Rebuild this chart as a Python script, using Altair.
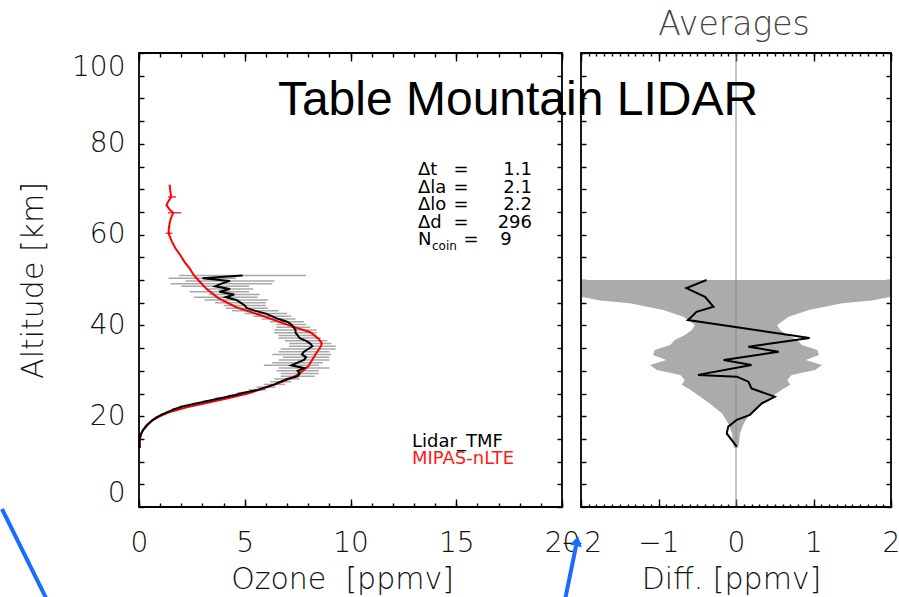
import altair as alt
import pandas as pd

# Lidar_TMF ozone profile: altitude [km], ozone [ppmv], 1-sigma [ppmv]
lidar_alt = [51.0, 50.4, 49.8, 49.2, 48.6, 48.0, 47.4, 46.8, 46.2, 45.6, 45.0, 44.4,
             43.8, 43.2, 42.6, 42.0, 41.4, 40.8, 40.2, 39.6, 39.0, 38.4, 37.8, 37.2,
             36.6, 36.0, 35.4, 34.8, 34.2, 33.6, 33.0, 32.4, 31.8, 31.2, 30.6, 30.0,
             29.4, 28.8, 28.2, 27.6, 27.0, 26.4, 25.8, 25.2, 24.6, 24.0, 23.4, 22.8,
             22.2, 21.6, 21.0, 20.4, 19.8, 19.2, 18.0, 17.0, 16.0, 15.0, 14.0, 13.0]
lidar_o3 = [4.9, 3.0, 4.3, 3.9, 3.6, 4.3, 3.8, 4.5, 4.1, 4.6, 4.8, 5.0,
            5.1, 5.5, 6.0, 6.3, 6.6, 7.0, 7.2, 7.3, 7.4, 7.4, 7.5, 7.6,
            7.9, 8.1, 8.2, 8.0, 7.8, 7.7, 7.9, 7.8, 7.5, 7.2, 7.8, 7.5,
            7.6, 7.5, 7.0, 6.7, 6.4, 6.0, 5.6, 5.0, 4.5, 3.9, 3.3, 2.7,
            2.1, 1.7, 1.4, 1.1, 0.85, 0.65, 0.38, 0.2, 0.08, 0.03, 0.02, 0.04]
lidar_err = [3.0, 1.6, 2.1, 2.4, 1.6, 1.1, 1.4, 1.2, 1.5, 1.5, 1.2, 1.0,
             1.0, 1.1, 1.0, 0.9, 0.8, 0.8, 0.7, 0.8, 1.0, 1.0, 0.9, 1.0,
             1.0, 1.0, 1.1, 1.3, 1.2, 1.4, 1.1, 1.2, 1.2, 1.3, 1.2, 1.0,
             0.9, 0.8, 0.6, 0.5, 0.5, 0.45, 0.4, 0.35, 0.3, 0.3, 0.25, 0.2,
             0.2, 0.15, 0.12, 0.1, 0.08, 0.06, 0.05, 0.04, 0.03, 0.02, 0.02, 0.02]

# MIPAS-nLTE ozone profile
mipas_alt = [71.0, 70.0, 68.3, 67.0, 66.5, 65.5, 64.8, 63.5, 62.5, 61.0, 60.0, 58.5,
             57.0, 55.5, 54.0, 52.5, 51.0, 50.0, 48.0, 46.0, 44.0, 42.0, 40.0, 38.5,
             37.0, 36.0, 35.0, 34.0, 32.5, 31.0, 30.0, 29.0, 28.0, 27.0, 26.0, 25.0,
             24.0, 23.0, 22.0, 21.0, 20.0, 19.0, 18.0, 17.0, 16.0, 15.0, 14.0, 13.2]
mipas_o3 = [1.45, 1.47, 1.52, 1.35, 1.3, 1.45, 1.62, 1.5, 1.45, 1.4, 1.42, 1.55,
            1.72, 1.95, 2.15, 2.4, 2.6, 2.8, 3.2, 3.75, 4.6, 5.9, 7.1, 8.1,
            8.5, 8.65, 8.55, 8.4, 8.2, 8.0, 7.75, 7.45, 7.0, 6.45, 5.8, 5.15,
            4.25, 3.3, 2.3, 1.5, 1.0, 0.62, 0.36, 0.2, 0.1, 0.05, 0.03, 0.03]
mipas_err_alt = [68.3, 64.8, 60.3]
mipas_err_lo = [1.37, 1.37, 1.26]
mipas_err_hi = [1.75, 2.0, 1.57]

# Mean difference and its spread
diff_alt = [50.0, 48.2, 46.3, 44.1, 43.0, 42.3, 41.2, 37.2, 35.3, 34.2, 32.4, 31.3,
            29.1, 28.7, 27.6, 26.1, 24.3, 22.8, 20.3, 19.2, 17.7, 16.2, 13.3]
diff_val = [-0.38, -0.64, -0.40, -0.29, -0.51, -0.55, -0.62, 0.95, 0.16, 0.55, -0.16, 0.20,
            -0.49, 0.01, 0.16, 0.20, 0.50, 0.33, 0.18, 0.01, -0.10, -0.12, 0.01]
band_alt = [50.0, 46.3, 45.5, 44.9, 43.4, 41.9, 40.1, 39.0, 37.9, 36.8, 35.7, 34.6,
            33.5, 32.4, 31.3, 30.2, 29.1, 28.0, 26.9, 25.8, 24.3, 22.8, 20.6, 18.4,
            16.2, 14.0, 13.0]
band_half = [2.0, 2.0, 1.75, 1.37, 0.94, 0.68, 0.53, 0.57, 0.66, 0.79, 0.85, 1.05,
             1.07, 0.9, 1.11, 1.02, 0.72, 0.66, 0.7, 0.59, 0.46, 0.34, 0.18, 0.10,
             0.05, 0.04, 0.02]

# Axis ticks
ozone_major = [0, 5, 10, 15, 20]
ozone_minor = list(range(0, 21))
diff_major = [-2, -1, 0, 1, 2]
diff_minor = [round(-2 + 0.1 * i, 1) for i in range(41)]
alt_ticks = list(range(0, 101, 5))

# Texts
title_text = "Table Mountain LIDAR"
right_title = "Averages"
ozone_title = "Ozone\u00a0\u00a0[ppmv]"
diff_title = "Diff.\u00a0[ppmv]"
alt_title = "Altitude\u00a0[km]"
coin_names = ["\u0394t", "\u0394la", "\u0394lo", "\u0394d"]
coin_values = ["1.1", "2.1", "2.2", "296"]
n_coin = "9"
legend_names = ["Lidar_TMF", "MIPAS-nLTE"]

# ---- layout (pixels) ----
W, H = 899, 597
TOP, BOTTOM = 53, 507
OZ_L, OZ_R = 139, 562
DF_L, DF_R = 581, 891
FONT = "DejaVu Sans"
INK = "#111111"
THIN = 200

y_scale = alt.Scale(domain=[alt_ticks[0], alt_ticks[-1]], range=[BOTTOM, TOP])
oz_scale = alt.Scale(domain=[ozone_major[0], ozone_major[-1]], range=[OZ_L, OZ_R])
df_scale = alt.Scale(domain=[diff_major[0], diff_major[-1]], range=[DF_L, DF_R])


def inward_axis(orient, edge, length, values, **extra):
    """Axis whose ticks point into the box: the axis line sits `length` px
    inside the frame edge and the ticks run outward up to the edge."""
    if orient == "bottom":
        off = edge - length - H
    elif orient == "top":
        off = -(edge + length)
    elif orient == "left":
        off = -(edge + length)
    else:
        off = edge - length - W
    props = dict(orient=orient, offset=off, tickSize=length, values=values,
                 domain=False, grid=False, labels=False, title=None,
                 tickColor="black", tickWidth=1.4)
    props.update(extra)
    return alt.Axis(**props)


label_style = dict(labels=True, labelFont=FONT, labelFontSize=28, labelColor=INK,
                   labelFontWeight=THIN, labelOverlap=False)
title_style = dict(titleFont=FONT, titleFontSize=30, titleFontWeight=THIN,
                   titleColor=INK, titleAlign="center")

oz_bottom_major = inward_axis("bottom", BOTTOM, 8, ozone_major, labelPadding=22,
                              labelFlush=False,
                              title=ozone_title, titleX=342, titleY=89,
                              titleBaseline="alphabetic", **label_style, **title_style)
oz_bottom_minor = inward_axis("bottom", BOTTOM, 4, ozone_minor)
oz_top_major = inward_axis("top", TOP, 8, ozone_major)
oz_top_minor = inward_axis("top", TOP, 4, ozone_minor)
oz_left = inward_axis("left", OZ_L, 5, alt_ticks, labelPadding=14, labelFlush=True,
                      labelExpr="datum.value % 20 === 0 ? datum.label : ''",
                      title=alt_title, titleAngle=270, titleX=33 - (OZ_L + 5),
                      titleY=(TOP + BOTTOM) / 2, titleBaseline="middle",
                      **label_style, **title_style)
oz_right = inward_axis("right", OZ_R, 5, alt_ticks)

df_bottom_major = inward_axis("bottom", BOTTOM, 8, diff_major, labelPadding=22,
                              labelFlush=False,
                              title=diff_title, titleX=731, titleY=89,
                              titleBaseline="alphabetic", **label_style, **title_style)
df_bottom_minor = inward_axis("bottom", BOTTOM, 3, diff_minor)
df_top_major = inward_axis("top", TOP, 8, diff_major)
df_top_minor = inward_axis("top", TOP, 3, diff_minor)
df_left = inward_axis("left", DF_L, 5, alt_ticks)
df_right = inward_axis("right", DF_R, 5, alt_ticks)

# ---- data tables ----
lidar_df = pd.DataFrame({"km": lidar_alt, "o3": lidar_o3, "err": lidar_err})
mipas_df = pd.DataFrame({"km": mipas_alt, "o3": mipas_o3})
mipas_err_df = pd.DataFrame({"km": mipas_err_alt, "lo": mipas_err_lo, "hi": mipas_err_hi})
diff_df = pd.DataFrame({"km": diff_alt, "d": diff_val})
band_df = pd.DataFrame({"km": band_alt, "w": band_half})
oz_frame_df = pd.DataFrame({"x0": [ozone_major[0]], "x1": [ozone_major[-1]],
                            "y0": [alt_ticks[0]], "y1": [alt_ticks[-1]]})
df_frame_df = pd.DataFrame({"x0": [diff_major[0]], "x1": [diff_major[-1]],
                            "y0": [alt_ticks[0]], "y1": [alt_ticks[-1]]})
zero_df = pd.DataFrame({"d": [0], "y0": [alt_ticks[0]], "y1": [alt_ticks[-1]]})


def one_row(text):
    return pd.DataFrame({"t": [text]})


# ---- right panel: averaged differences ----
band = alt.Chart(band_df).transform_calculate(neg="-datum.w").mark_area(
    orient="horizontal", color="#ababab"
).encode(
    x=alt.X("neg:Q", scale=df_scale, axis=df_bottom_minor),
    x2="w:Q",
    y=alt.Y("km:Q", scale=y_scale, axis=df_right),
)
zero_line = alt.Chart(zero_df).mark_rule(color="#8c8c8c", strokeWidth=1).encode(
    x=alt.X("d:Q", scale=df_scale, axis=df_top_major),
    y=alt.Y("y0:Q", scale=y_scale, axis=None),
    y2="y1:Q",
)
diff_line = alt.Chart(diff_df).mark_line(color="black", strokeWidth=2).encode(
    x=alt.X("d:Q", scale=df_scale, axis=df_top_minor),
    y=alt.Y("km:Q", scale=y_scale, axis=None),
    order="km:Q",
)
df_frame = alt.Chart(df_frame_df).mark_rect(
    fillOpacity=0, stroke="black", strokeWidth=1.8
).encode(
    x=alt.X("x0:Q", scale=df_scale, axis=df_bottom_major),
    x2="x1:Q",
    y=alt.Y("y0:Q", scale=y_scale, axis=df_left),
    y2="y1:Q",
)

# ---- left panel: ozone profiles ----
lidar_err_bars = alt.Chart(lidar_df).transform_calculate(
    lo="datum.o3 - datum.err", hi="datum.o3 + datum.err"
).mark_rule(color="#a8a8a8", strokeWidth=1.5).encode(
    x=alt.X("lo:Q", scale=oz_scale, axis=oz_bottom_minor),
    x2="hi:Q",
    y=alt.Y("km:Q", scale=y_scale, axis=oz_right),
)
mipas_line = alt.Chart(mipas_df).mark_line(color="#ff0000", strokeWidth=2).encode(
    x=alt.X("o3:Q", scale=oz_scale, axis=oz_top_major),
    y=alt.Y("km:Q", scale=y_scale, axis=None),
    order="km:Q",
)
mipas_err_bars = alt.Chart(mipas_err_df).mark_rule(color="#ff0000", strokeWidth=1.2).encode(
    x=alt.X("lo:Q", scale=oz_scale, axis=oz_top_minor),
    x2="hi:Q",
    y=alt.Y("km:Q", scale=y_scale, axis=None),
)
lidar_line = alt.Chart(lidar_df).mark_line(color="black", strokeWidth=2).encode(
    x=alt.X("o3:Q", scale=oz_scale, axis=None),
    y=alt.Y("km:Q", scale=y_scale, axis=None),
    order="km:Q",
)
oz_frame = alt.Chart(oz_frame_df).mark_rect(
    fillOpacity=0, stroke="black", strokeWidth=1.8
).encode(
    x=alt.X("x0:Q", scale=oz_scale, axis=oz_bottom_major),
    x2="x1:Q",
    y=alt.Y("y0:Q", scale=y_scale, axis=oz_left),
    y2="y1:Q",
)

# ---- texts ----
def label(text, x, y, size, color="black", align="left", font=FONT, weight="normal", **kw):
    return alt.Chart(one_row(text)).mark_text(
        font=font, fontSize=size, color=color, align=align, fontWeight=weight,
        baseline="alphabetic", **kw
    ).encode(x=alt.value(x), y=alt.value(y), text="t:N")


LINE = 17.5
FIRST = 175
SIZE = 18
texts = [
    label(title_text, 518, 115, 48, align="center", font="Liberation Sans"),
    label(right_title, 734, 35, 33, color="#444444", align="center", weight=THIN),
    label("\n".join(coin_names), 418, FIRST, SIZE, lineBreak="\n", lineHeight=LINE),
    label("\n".join(["="] * len(coin_names)), 461, FIRST, SIZE, align="center",
          lineBreak="\n", lineHeight=LINE),
    label("\n".join(coin_values), 532, FIRST, SIZE, align="right",
          lineBreak="\n", lineHeight=LINE),
    label("N", 418, FIRST + 4 * LINE, SIZE),
    label("coin", 432, FIRST + 4 * LINE + 5, 12),
    label("=", 471, FIRST + 4 * LINE, SIZE, align="center"),
    label(n_coin, 506, FIRST + 4 * LINE, SIZE, align="center"),
    label(legend_names[0], 412, 447, SIZE),
    label(legend_names[1], 412, 464, SIZE, color="#ff1a1a"),
]

# ---- blue pointer lines ----
BLUE = "#1a6cff"
pointer_left = alt.Chart(one_row("")).mark_rule(color=BLUE, strokeWidth=4).encode(
    x=alt.value(2), y=alt.value(509), x2=alt.value(47), y2=alt.value(600)
)
pointer_right = alt.Chart(one_row("")).mark_rule(color=BLUE, strokeWidth=4).encode(
    x=alt.value(565), y=alt.value(600), x2=alt.value(576), y2=alt.value(546)
)
pointer_head = alt.Chart(one_row("")).mark_point(
    shape="triangle-up", filled=True, color=BLUE, opacity=1, angle=12, size=140
).encode(x=alt.value(577), y=alt.value(541))

chart = alt.layer(
    band, zero_line, diff_line, df_frame,
    lidar_err_bars, mipas_line, mipas_err_bars, lidar_line, oz_frame,
    *texts,
    pointer_left, pointer_right, pointer_head,
).resolve_scale(x="independent").resolve_axis(
    x="independent", y="independent"
).properties(
    width=W, height=H, padding=0, autosize=alt.AutoSizeParams(type="none")
).configure_view(stroke="transparent")

chart.save("out.html", embed_options={"renderer": "svg", "actions": False})
